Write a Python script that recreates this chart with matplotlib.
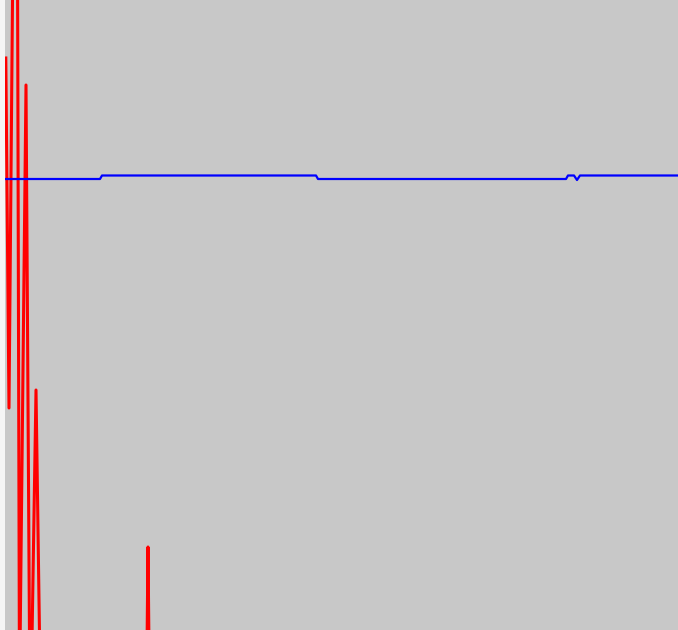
import matplotlib
matplotlib.use("Agg")
import matplotlib.pyplot as plt

# --- Data (in plot units) ---
red_x = [0.8, 4, 11.4, 14.5, 21, 24.5, 26, 27, 31, 35, 55, 95, 141.5, 143, 144.5, 300, 673]
red_y = [572, 222, 1086, -70, 545, -10, 5, -10, 240, -40, -60, -50, -70, 83, -70, -60, -60]

blue_x = [1, 95, 97, 311, 313, 561, 563, 569, 572, 575, 673]
blue_y = [451, 451, 454.5, 454.5, 451, 451, 454.5, 454.5, 450, 454.5, 454.5]

# --- Figure ---
fig = plt.figure(figsize=(6.78, 6.3), dpi=100)
fig.patch.set_facecolor("#f5f5f5")
ax = fig.add_axes([5 / 678, 0, 673 / 678, 1])
ax.set_facecolor("#c8c8c8")

ax.plot(red_x, red_y, color="red", linewidth=2.2)
ax.plot(blue_x, blue_y, color="blue", linewidth=1.6)

ax.set_xlim(0, 673)
ax.set_ylim(0, 630)
ax.axis("off")
ax.add_patch(plt.Rectangle((0, 0), 1, 1, transform=ax.transAxes,
                           color="#c8c8c8", zorder=0))

fig.savefig("out.png", dpi=100, facecolor=fig.get_facecolor())
